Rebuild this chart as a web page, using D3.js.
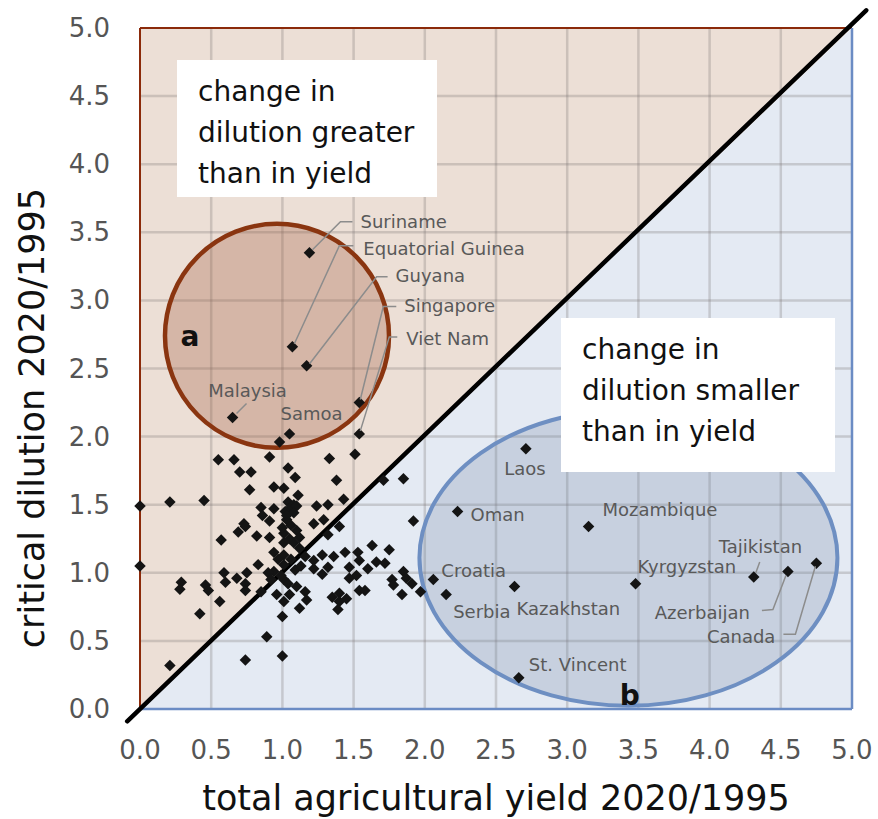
<!DOCTYPE html>
<html>
<head>
<meta charset="utf-8">
<script src="https://cdn.jsdelivr.net/npm/d3@7"></script>
<style>
  html, body { margin: 0; padding: 0; background: #fff; }
  svg { display: block; font-family: "DejaVu Sans", sans-serif; }
</style>
</head>
<body>
<div id="chart"></div>
<script>
// ---- data (yield ratio, dilution ratio) ----
const tickValues = [0, 0.5, 1, 1.5, 2, 2.5, 3, 3.5, 4, 4.5, 5];
const gridValues = [0.5, 1, 1.5, 2, 2.5, 3, 3.5, 4, 4.5];

const otherCountries = [
    [0.98, 1.96], [0.55, 1.83], [0.66, 1.83], [0.91, 1.85], [1.33, 1.84], [1.51, 1.87],
    [0.70, 1.74], [0.78, 1.74], [1.04, 1.77], [1.09, 1.70], [1.38, 1.68], [0.77, 1.61],
    [0.94, 1.63], [1.01, 1.62], [1.11, 1.57], [1.43, 1.54], [0.00, 1.49], [0.21, 1.52],
    [0.45, 1.53], [1.04, 1.52], [1.08, 1.50], [1.05, 1.47], [1.10, 1.49], [1.02, 1.45],
    [1.08, 1.44], [0.85, 1.48], [0.94, 1.47], [1.24, 1.49], [1.32, 1.50], [0.86, 1.42],
    [0.91, 1.38], [1.03, 1.39], [1.22, 1.36], [1.29, 1.39], [1.40, 1.34], [1.92, 1.38],
    [1.71, 1.68], [1.85, 1.69], [0.73, 1.36], [0.69, 1.30], [0.74, 1.34], [0.57, 1.24],
    [0.82, 1.27], [0.91, 1.26], [1.01, 1.29], [1.10, 1.31], [1.32, 1.28], [1.01, 1.22],
    [1.08, 1.22], [1.12, 1.18], [0.94, 1.15], [1.01, 1.13], [1.16, 1.12], [1.22, 1.09],
    [1.28, 1.13], [1.36, 1.12], [1.44, 1.15], [1.53, 1.15], [1.63, 1.20], [1.75, 1.17],
    [0.00, 1.05], [0.83, 1.06], [1.01, 1.06], [0.94, 1.01], [1.09, 1.02], [1.22, 1.03],
    [1.28, 0.99], [1.32, 1.04], [1.47, 1.04], [1.54, 1.09], [1.60, 1.03], [1.66, 1.08],
    [1.72, 1.07], [1.52, 0.98], [1.85, 1.01], [0.59, 1.00], [0.68, 0.96], [0.75, 1.00],
    [0.90, 1.00], [0.29, 0.93], [0.28, 0.88], [0.46, 0.91], [0.48, 0.87], [0.60, 0.93],
    [0.74, 0.92], [0.74, 0.87], [0.85, 0.86], [0.92, 0.95], [1.01, 0.95], [1.10, 0.90],
    [1.16, 0.86], [0.96, 0.84], [1.05, 0.84], [1.01, 0.79], [1.17, 0.80], [1.12, 0.74],
    [1.35, 0.82], [1.40, 0.85], [1.40, 0.79], [1.39, 0.73], [1.45, 0.81], [1.47, 0.96],
    [1.54, 0.87], [1.58, 0.87], [1.77, 0.95], [1.78, 0.91], [1.87, 0.96], [1.91, 0.92],
    [1.97, 0.86], [1.84, 0.84], [0.56, 0.79], [0.42, 0.70], [1.00, 0.68], [0.89, 0.53],
    [0.74, 0.36], [1.00, 0.39], [0.21, 0.32], [1.03, 1.42], [1.06, 1.35], [1.00, 1.33],
    [1.05, 1.25], [1.12, 1.26], [0.97, 1.10], [1.06, 1.10], [1.13, 1.05], [0.99, 0.98],
    [1.04, 0.92]
];

const labelledNames = ['Suriname', 'Equatorial Guinea', 'Guyana', 'Singapore', 'Viet Nam',
    'Malaysia', 'Samoa', 'Laos', 'Oman', 'Mozambique', 'Croatia', 'Serbia', 'Kazakhstan',
    'Kyrgyzstan', 'Tajikistan', 'Azerbaijan', 'Canada', 'St. Vincent'];
const labelledYield = [1.19, 1.07, 1.17, 1.54, 1.54, 0.65, 1.05, 2.71, 2.23, 3.15, 2.06, 2.15,
    2.63, 3.48, 4.31, 4.55, 4.75, 2.66];
const labelledDilution = [3.35, 2.66, 2.52, 2.25, 2.02, 2.14, 2.02, 1.91, 1.45, 1.34, 0.95, 0.84,
    0.90, 0.92, 0.97, 1.01, 1.07, 0.23];

const boxLinesA = ['change in', 'dilution greater', 'than in yield'];
const boxLinesB = ['change in', 'dilution smaller', 'than in yield'];

// ---- layout ----
const W = 878, H = 819;
const margin = { top: 28, right: 26, bottom: 110, left: 140 };
const innerW = W - margin.left - margin.right;
const innerH = H - margin.top - margin.bottom;

// label placement relative to the point (pixels): text offset, anchor, leader path
const labelPlacement = {
    'Suriname': { t: [51, -25], a: 'start', lead: [[3, -3], [31, -31], [43, -31]] },
    'Equatorial Guinea': { t: [71, -92], a: 'start', lead: [[2, -3], [47, -101], [61, -101]] },
    'Guyana': { t: [89, -84], a: 'start', lead: [[3, -2], [70, -89], [81, -89]] },
    'Singapore': { t: [45, -91], a: 'start', lead: [[1, -3], [24, -96], [37, -96]] },
    'Viet Nam': { t: [47, -89], a: 'start', lead: [[1, -3], [30, -97], [38, -97]] },
    'Malaysia': { t: [15, -21], a: 'middle', lead: [[4, -4], [14, -14]] },
    'Samoa': { t: [-9, -14], a: 'start' },
    'Laos': { t: [-1, 26], a: 'middle' },
    'Oman': { t: [13, 9], a: 'start' },
    'Mozambique': { t: [14, -10], a: 'start' },
    'Croatia': { t: [8, -3], a: 'start' },
    'Serbia': { t: [7, 23], a: 'start' },
    'Kazakhstan': { t: [2, 29], a: 'start' },
    'Kyrgyzstan': { t: [2, -11], a: 'start' },
    'Tajikistan': { t: [-35, -24], a: 'start', lead: [[2, -4], [6, -15]] },
    'Azerbaijan': { t: [-38, 48], a: 'end', lead: [[-2, 4], [-15, 38], [-26, 39]] },
    'Canada': { t: [-41, 80], a: 'end', lead: [[-1, 3], [-21, 71], [-33, 71]] },
    'St. Vincent': { t: [10, -7], a: 'start' }
};

const svg = d3.select('#chart').append('svg')
    .attr('width', W)
    .attr('height', H);
const g = svg.append('g')
    .attr('transform', `translate(${margin.left},${margin.top})`);

const x = d3.scaleLinear().domain([0, 5]).range([0, innerW]);
const y = d3.scaleLinear().domain([0, 5]).range([innerH, 0]);

// two triangular regions
g.append('path')
    .attr('d', d3.line()([[x(0), y(0)], [x(0), y(5)], [x(5), y(5)]]))
    .attr('fill', '#ecdfd6');
g.append('path')
    .attr('d', d3.line()([[x(0), y(0)], [x(5), y(0)], [x(5), y(5)]]))
    .attr('fill', '#e4eaf3');

// grid
const grid = g.append('g').attr('stroke', 'rgba(120,110,110,0.28)').attr('stroke-width', 2.5);
grid.selectAll('.gx').data(gridValues).join('line')
    .attr('x1', d => x(d)).attr('x2', d => x(d))
    .attr('y1', y(0)).attr('y2', y(5));
grid.selectAll('.gy').data(gridValues).join('line')
    .attr('y1', d => y(d)).attr('y2', d => y(d))
    .attr('x1', x(0)).attr('x2', x(5));

// highlight circle a and ellipse b
g.append('circle')
    .attr('cx', x(0.962)).attr('cy', y(2.74)).attr('r', 112)
    .attr('fill', 'rgba(160,90,60,0.3)')
    .attr('stroke', '#8a3510').attr('stroke-width', 4.5);
g.append('ellipse')
    .attr('cx', x(3.43)).attr('cy', y(1.11)).attr('rx', 209).attr('ry', 148)
    .attr('fill', 'rgba(110,130,165,0.25)')
    .attr('stroke', '#6e8fc2').attr('stroke-width', 4);

// frame
g.append('line').attr('x1', x(0)).attr('x2', x(0)).attr('y1', y(0)).attr('y2', y(5))
    .attr('stroke', '#8b2a0a').attr('stroke-width', 2);
g.append('line').attr('x1', x(0)).attr('x2', x(5)).attr('y1', y(5)).attr('y2', y(5))
    .attr('stroke', '#8b2a0a').attr('stroke-width', 2);
g.append('line').attr('x1', x(0)).attr('x2', x(5)).attr('y1', y(0)).attr('y2', y(0))
    .attr('stroke', '#6b8cc4').attr('stroke-width', 2.5);
g.append('line').attr('x1', x(5)).attr('x2', x(5)).attr('y1', y(0)).attr('y2', y(5))
    .attr('stroke', '#6b8cc4').attr('stroke-width', 2.5);

// 1:1 line
g.append('line')
    .attr('x1', x(-0.09)).attr('y1', y(-0.09))
    .attr('x2', x(5.1)).attr('y2', y(5.13))
    .attr('stroke', '#000').attr('stroke-width', 4.5).attr('stroke-linecap', 'round');

// text boxes
function textBox(x0, y0, w, h, lines) {
    const b = g.append('g').attr('transform', `translate(${x0},${y0})`);
    b.append('rect').attr('width', w).attr('height', h).attr('fill', '#fff');
    b.selectAll('text').data(lines).join('text')
        .attr('x', 21)
        .attr('y', (d, i) => 41 + i * 41)
        .attr('font-size', 28)
        .attr('fill', '#111')
        .text(d => d);
}
textBox(37, 32, 260, 137, boxLinesA);
textBox(421, 290, 274, 154, boxLinesB);

// axes tick labels
const fmt = d3.format('.1f');
g.append('g').selectAll('text').data(tickValues).join('text')
    .attr('x', -30).attr('y', d => y(d) + 9)
    .attr('text-anchor', 'end')
    .attr('font-size', 26).attr('fill', '#555')
    .text(fmt);
g.append('g').selectAll('text').data(tickValues).join('text')
    .attr('x', d => x(d)).attr('y', innerH + 50)
    .attr('text-anchor', 'middle')
    .attr('font-size', 26).attr('fill', '#555')
    .text(fmt);

// axis titles
svg.append('text')
    .attr('x', margin.left + innerW / 2).attr('y', 810)
    .attr('text-anchor', 'middle')
    .attr('font-size', 35).attr('fill', '#111')
    .text('total agricultural yield 2020/1995');
svg.append('text')
    .attr('transform', 'translate(44,418) rotate(-90)')
    .attr('text-anchor', 'middle')
    .attr('font-size', 35).attr('fill', '#111')
    .text('critical dilution 2020/1995');

// points
const diamond = d3.symbol(d3.symbolSquare, 66);
const allPoints = otherCountries.concat(labelledNames.map((n, i) => [labelledYield[i], labelledDilution[i]]));
g.append('g').selectAll('path').data(allPoints).join('path')
    .attr('d', diamond)
    .attr('transform', d => `translate(${x(d[0])},${y(d[1])}) rotate(45)`)
    .attr('fill', '#141414');

// labels with leaders
const lab = g.append('g');
labelledNames.forEach((name, i) => {
    const px = x(labelledYield[i]), py = y(labelledDilution[i]);
    const p = labelPlacement[name];
    if (p.lead) {
        lab.append('path')
            .attr('d', d3.line()(p.lead.map(o => [px + o[0], py + o[1]])))
            .attr('fill', 'none').attr('stroke', '#8c8c8c').attr('stroke-width', 1.5);
    }
    lab.append('text')
        .attr('x', px + p.t[0]).attr('y', py + p.t[1])
        .attr('text-anchor', p.a)
        .attr('font-size', 18).attr('fill', '#595959')
        .text(name);
});

// region letters
g.append('text').attr('x', x(0.35)).attr('y', y(2.74) + 10)
    .attr('text-anchor', 'middle').attr('font-size', 28).attr('font-weight', 'bold')
    .attr('fill', '#111').text('a');
g.append('text').attr('x', x(3.44)).attr('y', y(0.03))
    .attr('text-anchor', 'middle').attr('font-size', 28).attr('font-weight', 'bold')
    .attr('fill', '#111').text('b');
</script>
</body>
</html>
